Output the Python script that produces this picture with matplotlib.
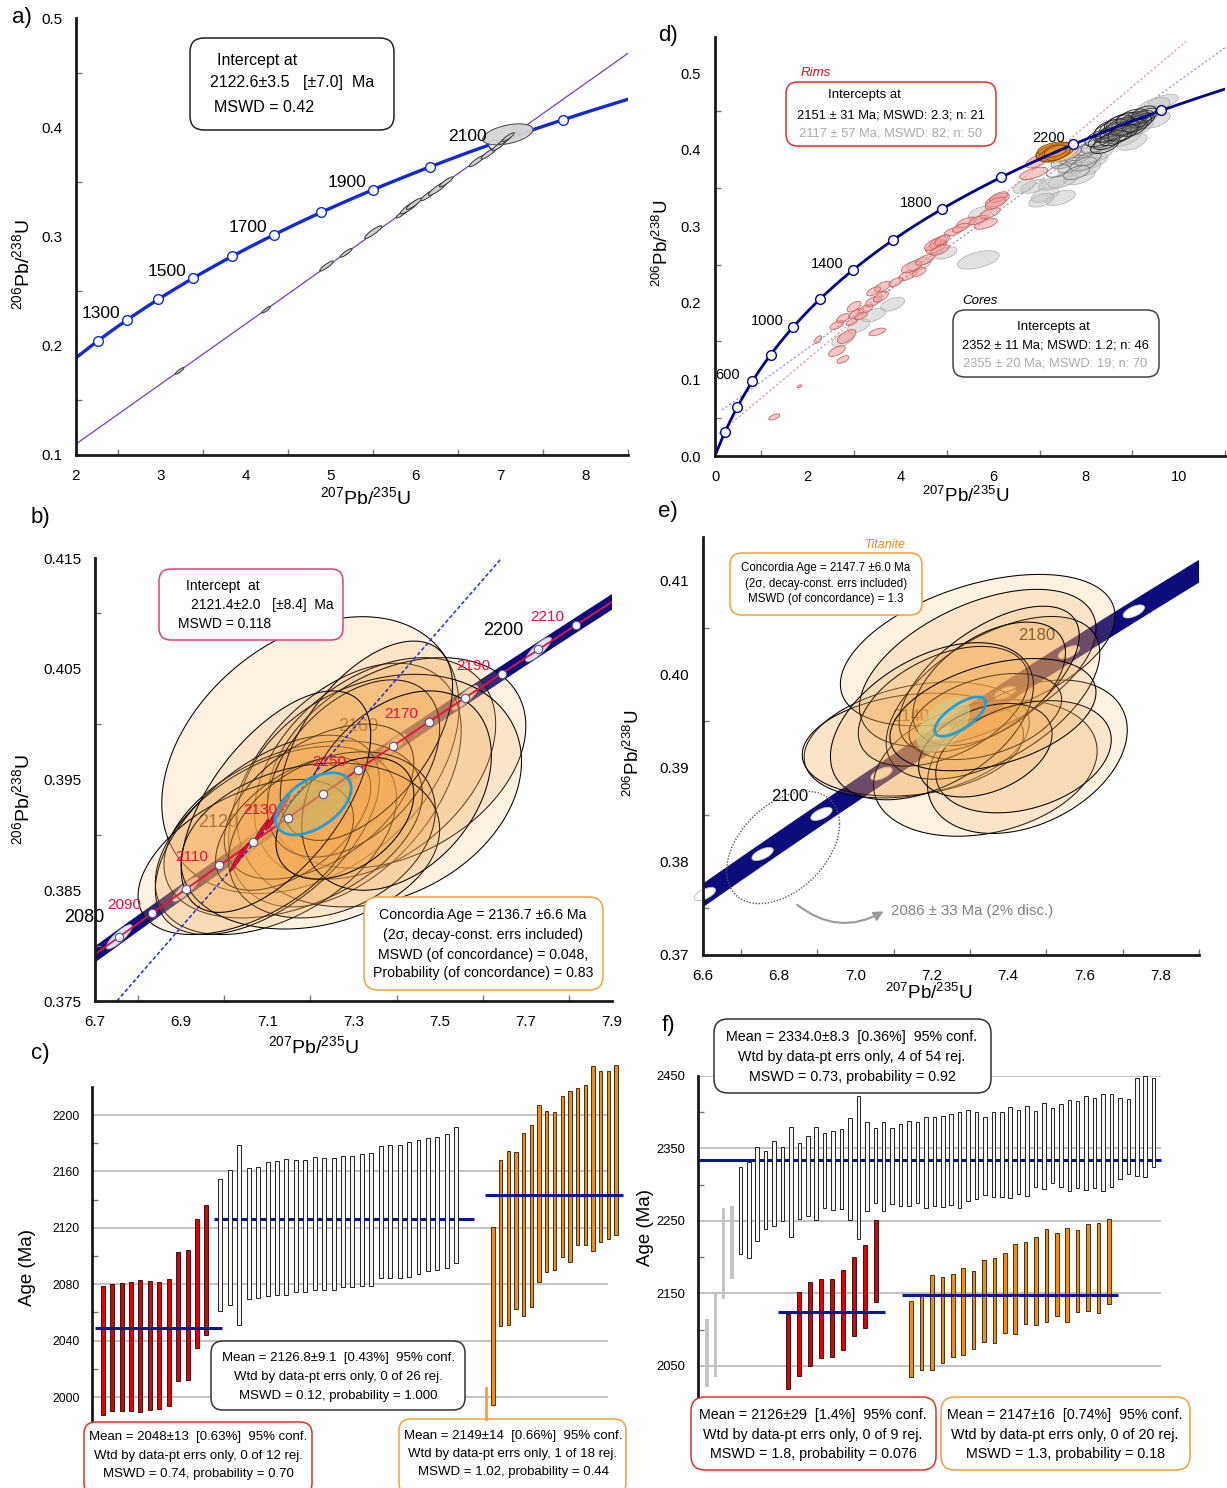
import numpy as np
import matplotlib.pyplot as plt
from matplotlib.patches import FancyBboxPatch, Polygon, FancyArrowPatch
from matplotlib.lines import Line2D
from matplotlib.colors import to_rgba
from matplotlib.ticker import FixedLocator, FormatStrFormatter

plt.rcParams['font.family'] = ['Liberation Sans', 'DejaVu Sans']
plt.rcParams['mathtext.fontset'] = 'custom'
plt.rcParams['mathtext.rm'] = 'Liberation Sans'
plt.rcParams['mathtext.it'] = 'Liberation Sans:italic'
plt.rcParams['mathtext.bf'] = 'Liberation Sans:bold'

# decay constants, 1/Ma
L238 = 1.55125e-4
L235 = 9.8485e-4

# ---------------- a) data ----------------
a_marker_ages = [1200, 1300, 1400, 1500, 1600, 1700, 1800, 1900, 2000, 2100, 2200]
a_label_ages = [1300, 1500, 1700, 1900, 2100]
a_disc_x = [0.0, 8.5]
a_disc_y = [0.0, 0.4677]
a_ex = [3.22, 4.24, 4.95, 5.18, 5.50, 5.84, 5.93, 5.98, 6.15, 6.26, 6.36, 6.72, 6.86, 6.98, 7.05, 7.09]
a_ey = [0.177, 0.233, 0.273, 0.285, 0.304, 0.321, 0.327, 0.330, 0.338, 0.344, 0.350, 0.369, 0.376, 0.383, 0.388, 0.391]
a_esx = [0.05, 0.05, 0.08, 0.07, 0.10, 0.07, 0.11, 0.09, 0.09, 0.11, 0.08, 0.09, 0.09, 0.08, 0.07, 0.07]
a_esy = [0.0030, 0.0030, 0.0046, 0.0040, 0.0058, 0.0040, 0.0063, 0.0052, 0.0052, 0.0063, 0.0046, 0.0052, 0.0052,
         0.0046, 0.0040, 0.0040]
a_erho = [0.9, 0.9, 0.9, 0.9, 0.9, 0.9, 0.9, 0.9, 0.9, 0.9, 0.9, 0.9, 0.9, 0.9, 0.9, 0.9]
a_icpt = (7.085, 0.3935, 0.296, 0.0096, 0.45)

# ---------------- d) data ----------------
d_marker_ages = [200, 400, 600, 800, 1000, 1200, 1400, 1600, 1800, 2000, 2200, 2400]
d_label_ages = [600, 1000, 1400, 1800, 2200]
d_rim_line_x = [0.0, 10.16]
d_rim_line_y = [0.025, 0.541]
d_core_line_x = [0.15, 11.0]
d_core_line_y = [0.060, 0.533]
d_pink_cx = [1.28, 1.82, 2.76, 2.22, 3.50, 2.84, 2.63, 2.76, 3.05, 3.25, 3.00, 3.42, 3.58, 3.62, 3.42, 4.16, 4.24,
             4.53, 4.77, 4.81, 4.85, 5.14, 5.43, 5.68, 5.84, 5.93, 6.09, 6.12, 6.87, 6.95, 2.95, 3.90, 4.40, 2.63,
             4.70, 4.90, 6.05, 3.15, 5.30]
d_pink_cy = [0.051, 0.091, 0.126, 0.152, 0.162, 0.156, 0.171, 0.180, 0.186, 0.192, 0.195, 0.202, 0.208, 0.221, 0.215,
             0.236, 0.247, 0.256, 0.273, 0.279, 0.269, 0.293, 0.305, 0.308, 0.303, 0.317, 0.334, 0.338, 0.369, 0.385,
             0.175, 0.227, 0.240, 0.137, 0.276, 0.282, 0.330, 0.183, 0.298]
d_pink_sx = [0.12, 0.05, 0.13, 0.08, 0.18, 0.20, 0.15, 0.14, 0.16, 0.16, 0.15, 0.18, 0.16, 0.18, 0.15, 0.20, 0.22,
             0.20, 0.22, 0.18, 0.20, 0.20, 0.22, 0.20, 0.25, 0.22, 0.26, 0.20, 0.30, 0.25, 0.12, 0.15, 0.15, 0.18,
             0.18, 0.16, 0.22, 0.14, 0.18]
d_pink_sy = [0.004, 0.002, 0.005, 0.005, 0.005, 0.009, 0.006, 0.006, 0.006, 0.006, 0.007, 0.007, 0.007, 0.007, 0.006,
             0.007, 0.008, 0.007, 0.009, 0.008, 0.007, 0.006, 0.007, 0.006, 0.007, 0.007, 0.009, 0.007, 0.008, 0.009,
             0.005, 0.006, 0.006, 0.007, 0.008, 0.007, 0.008, 0.005, 0.006]
d_gray_cx = [5.68, 7.12, 7.45, 6.87, 7.28, 7.86, 7.70, 8.11, 7.61, 8.27, 8.44, 8.02, 8.85, 9.67, 9.10, 9.50, 3.83,
             3.42, 4.40, 4.98, 5.72, 2.76, 3.10, 6.67, 7.04, 8.60, 9.30, 9.00, 7.50, 9.45, 8.00]
d_gray_cy = [0.256, 0.341, 0.337, 0.352, 0.356, 0.365, 0.374, 0.385, 0.387, 0.395, 0.409, 0.390, 0.417, 0.463, 0.430,
             0.439, 0.198, 0.184, 0.250, 0.265, 0.317, 0.152, 0.170, 0.352, 0.334, 0.425, 0.445, 0.410, 0.360, 0.455,
             0.375]
d_gray_sx = [0.45, 0.30, 0.32, 0.28, 0.30, 0.34, 0.30, 0.36, 0.32, 0.32, 0.32, 0.32, 0.36, 0.32, 0.36, 0.32, 0.26,
             0.26, 0.26, 0.24, 0.26, 0.24, 0.24, 0.24, 0.27, 0.32, 0.32, 0.32, 0.32, 0.36, 0.32]
d_gray_sy = [0.012, 0.010, 0.010, 0.009, 0.009, 0.011, 0.010, 0.011, 0.011, 0.011, 0.011, 0.010, 0.013, 0.009, 0.013,
             0.011, 0.009, 0.009, 0.009, 0.008, 0.009, 0.009, 0.009, 0.009, 0.009, 0.011, 0.011, 0.011, 0.010, 0.013,
             0.010]
d_dark_cx = [8.35, 8.45, 8.55, 8.60, 8.65, 8.70, 8.75, 8.80, 8.85, 8.90, 8.95, 9.00, 9.05, 9.10, 9.15, 8.50, 8.70,
             8.90, 9.20, 8.80, 8.60, 9.00, 8.40, 9.30, 8.30, 8.50, 8.65, 8.75, 8.95, 9.05, 9.20, 8.55, 8.85, 9.10,
             8.45, 8.70, 9.00, 9.25, 8.60, 8.80]
d_dark_cy = [0.412, 0.418, 0.420, 0.425, 0.422, 0.428, 0.430, 0.426, 0.433, 0.431, 0.436, 0.433, 0.438, 0.437, 0.440,
             0.425, 0.418, 0.440, 0.442, 0.436, 0.430, 0.428, 0.405, 0.445, 0.415, 0.420, 0.424, 0.432, 0.430, 0.440,
             0.438, 0.428, 0.428, 0.434, 0.410, 0.435, 0.442, 0.448, 0.415, 0.422]
d_dark_sx = [0.30, 0.28, 0.32, 0.30, 0.26, 0.30, 0.34, 0.28, 0.30, 0.32, 0.28, 0.30, 0.26, 0.30, 0.28, 0.34, 0.30,
             0.28, 0.26, 0.36, 0.30, 0.32, 0.30, 0.26, 0.32, 0.30, 0.34, 0.28, 0.32, 0.30, 0.28, 0.36, 0.30, 0.32,
             0.28, 0.30, 0.34, 0.26, 0.30, 0.32]
d_dark_sy = [0.010, 0.009, 0.011, 0.010, 0.009, 0.010, 0.011, 0.009, 0.010, 0.011, 0.009, 0.010, 0.009, 0.010, 0.009,
             0.011, 0.010, 0.009, 0.009, 0.012, 0.010, 0.011, 0.010, 0.009, 0.011, 0.010, 0.012, 0.010, 0.011, 0.010,
             0.009, 0.012, 0.010, 0.011, 0.010, 0.010, 0.011, 0.009, 0.010, 0.011]
d_mid_cx = [7.55, 7.70, 7.85, 8.00, 8.10, 7.65, 7.95, 8.20, 7.40, 7.80, 7.60, 8.05]
d_mid_cy = [0.385, 0.390, 0.392, 0.398, 0.402, 0.378, 0.381, 0.405, 0.372, 0.370, 0.395, 0.388]
d_mid_sx = [0.30, 0.28, 0.30, 0.28, 0.30, 0.26, 0.28, 0.30, 0.25, 0.28, 0.30, 0.28]
d_mid_sy = [0.010, 0.009, 0.010, 0.009, 0.010, 0.008, 0.009, 0.010, 0.008, 0.009, 0.010, 0.009]
d_or_cx = [7.37, 7.30, 7.35, 7.25, 7.40, 7.32, 7.28, 7.38, 7.34]
d_or_cy = [0.396, 0.397, 0.399, 0.395, 0.398, 0.401, 0.393, 0.396, 0.398]
d_or_sx = [0.45, 0.38, 0.34, 0.32, 0.34, 0.36, 0.30, 0.28, 0.24]
d_or_sy = [0.013, 0.011, 0.010, 0.010, 0.010, 0.009, 0.009, 0.010, 0.008]
d_cyan = (7.35, 0.397, 0.07, 0.0025, 0.5)

# ---------------- b) data ----------------
b_dot_ages = [2080, 2090, 2100, 2110, 2120, 2130, 2140, 2150, 2160, 2170, 2180, 2190, 2200, 2210]
b_ell_ages = [2080, 2100, 2120, 2140, 2160, 2180, 2200]
b_red_labels = [2090, 2110, 2130, 2150, 2170, 2190, 2210]
b_black_labels = [2080, 2120, 2160, 2200]
b_disc_x = [6.751, 7.644]
b_disc_y = [0.375, 0.415]
b_cx = [7.20, 7.28, 7.35, 7.40, 7.36, 7.16, 7.12, 7.10, 7.22, 7.16, 7.30, 7.25, 7.05, 7.33, 7.20, 7.40, 7.12, 7.28]
b_cy = [0.3972, 0.3945, 0.3960, 0.3965, 0.3940, 0.3905, 0.3895, 0.3900, 0.3930, 0.3910, 0.3960, 0.3900, 0.3880,
        0.3985, 0.3890, 0.3940, 0.3930, 0.3915]
b_sx = [0.345, 0.27, 0.28, 0.30, 0.33, 0.30, 0.28, 0.26, 0.22, 0.18, 0.20, 0.24, 0.25, 0.20, 0.30, 0.22, 0.22, 0.16]
b_sy = [0.0125, 0.0110, 0.0100, 0.0095, 0.0105, 0.0080, 0.0085, 0.0090, 0.0070, 0.0060, 0.0080, 0.0075, 0.0070,
        0.0090, 0.0075, 0.0090, 0.0100, 0.0055]
b_rho = [0.35, 0.45, 0.40, 0.35, 0.25, 0.40, 0.45, 0.55, 0.50, 0.55, 0.45, 0.30, 0.50, 0.55, 0.20, 0.35, 0.60, 0.40]
b_red_cx = [7.035, 7.085, 7.125]
b_red_cy = [0.3880, 0.3903, 0.3921]
b_red_sx = [0.022, 0.018, 0.028]
b_red_sy = [0.0013, 0.0011, 0.0016]
b_cyan = (7.2066, 0.3928, 0.088, 0.0028, 0.5)

# ---------------- e) data ----------------
e_ell_ages = [2060, 2080, 2100, 2120, 2140, 2160, 2180, 2200]
e_black_labels = [2100, 2140, 2180]
e_cx = [7.16, 7.15, 7.34, 7.45, 7.32, 7.32, 7.36, 7.35, 7.35, 7.34, 7.23, 7.20, 7.44, 7.34, 7.36]
e_cy = [0.3930, 0.3925, 0.3900, 0.3912, 0.4026, 0.4007, 0.3975, 0.3995, 0.3990, 0.3955, 0.3966, 0.3950, 0.3912,
        0.3919, 0.3957]
e_sx = [0.295, 0.29, 0.293, 0.262, 0.36, 0.31, 0.28, 0.236, 0.20, 0.20, 0.223, 0.266, 0.23, 0.175, 0.27]
e_sy = [0.0062, 0.0055, 0.0073, 0.0082, 0.0081, 0.0084, 0.0087, 0.0078, 0.0066, 0.0046, 0.0064, 0.0084, 0.0060,
        0.0050, 0.0060]
e_rho = [0.30, 0.20, 0.25, 0.35, 0.45, 0.50, 0.55, 0.60, 0.50, 0.40, 0.45, 0.45, 0.30, 0.35, 0.40]
e_disc_ell = (6.81, 0.3815, 0.148, 0.006, 0.42)
e_cyan = (7.274, 0.3955, 0.067, 0.0021, 0.70)
e_olive = (7.23, 0.3946, 0.07, 0.0030, 0.50)

# ---------------- c) data ----------------
c_red_lo = [1987.5, 1990.3, 1990.3, 1990.3, 1989.1, 1991.0, 1991.5, 1993.4, 2011.6, 2012.0, 2034.8, 2044.0]
c_red_hi = [2078.6, 2080.5, 2080.7, 2081.4, 2083.3, 2082.1, 2081.7, 2083.8, 2102.9, 2104.3, 2126.4, 2136.3]
c_gray_lo = [2061.1, 2065.1, 2050.8, 2069.4, 2070.1, 2071.5, 2072.7, 2072.7, 2074.4, 2074.6, 2075.6, 2075.6, 2076.0,
             2077.9, 2077.9, 2078.5, 2078.5, 2084.1, 2084.4, 2084.4, 2085.3, 2087.0, 2089.6, 2090.3, 2091.5, 2094.8]
c_gray_hi = [2154.8, 2160.7, 2178.5, 2162.8, 2163.5, 2166.9, 2167.3, 2168.5, 2168.0, 2168.0, 2169.9, 2169.2, 2169.2,
             2171.3, 2171.3, 2172.5, 2172.8, 2178.0, 2178.9, 2178.9, 2181.1, 2182.0, 2183.7, 2184.6, 2186.3, 2191.2]
c_or_lo = [1994.4, 2050.4, 2051.4, 2062.2, 2057.5, 2063.8, 2081.7, 2089.0, 2090.0, 2099.4, 2095.9, 2108.0, 2108.0,
           2103.8, 2110.0, 2112.3, 2115.0]
c_or_hi = [2120.5, 2167.8, 2174.8, 2174.0, 2187.0, 2193.1, 2207.3, 2202.8, 2202.4, 2213.4, 2216.9, 2219.2, 2221.1,
           2234.7, 2231.4, 2231.0, 2235.7]
c_means = [2049.0, 2126.4, 2143.2]
c_ticks = [2000, 2040, 2080, 2120, 2160, 2200]

# ---------------- f) data ----------------
f_rej_lo = [2021.0, 2034.8, 2143.0, 2170.6]
f_rej_hi = [2115.4, 2149.9, 2267.3, 2270.5]
f_gray_lo = [2204.2, 2199.6, 2222.2, 2238.3, 2242.4, 2250.2, 2227.7, 2252.1, 2256.7, 2250.7,
             2267.3, 2265.4, 2265.9, 2251.1, 2225.8, 2264.0, 2274.2, 2263.6, 2273.2, 2270.5,
             2270.9, 2275.1, 2267.3, 2270.5, 2269.1, 2271.4, 2268.6, 2277.8, 2279.7, 2285.7,
             2282.9, 2283.4, 2281.5, 2286.6, 2284.8, 2296.3, 2293.5, 2301.8, 2296.3, 2291.7,
             2295.9, 2292.1, 2294.9, 2291.2, 2296.3, 2307.8, 2314.2, 2311.4, 2310.1, 2324.8]
f_gray_hi = [2324.8, 2330.8, 2352.4, 2346.9, 2360.2, 2351.5, 2380.0, 2357.9, 2367.6, 2379.1,
             2371.7, 2374.5, 2377.3, 2391.5, 2422.4, 2386.9, 2378.2, 2386.9, 2378.7, 2384.2,
             2388.3, 2386.5, 2393.8, 2392.9, 2394.8, 2398.0, 2400.7, 2403.0, 2399.8, 2393.8,
             2400.7, 2400.7, 2407.7, 2403.0, 2409.0, 2402.1, 2412.3, 2405.8, 2411.8, 2416.4,
             2416.0, 2422.8, 2419.2, 2425.1, 2424.7, 2419.2, 2418.2, 2447.7, 2450.5, 2446.8]
f_red_lo = [2017.8, 2036.2, 2050.0, 2061.1, 2062.4, 2072.6, 2091.0, 2102.5, 2138.4]
f_red_hi = [2122.3, 2152.2, 2166.0, 2169.7, 2170.1, 2182.1, 2200.5, 2216.6, 2251.2]
f_or_lo = [2034.8, 2044.0, 2044.0, 2054.1, 2062.4, 2065.6, 2073.9, 2083.1, 2081.8, 2095.6,
           2094.6, 2108.5, 2107.1, 2110.8, 2119.0, 2110.8, 2124.6, 2125.5, 2123.6, 2135.2]
f_or_hi = [2139.8, 2148.5, 2175.2, 2172.9, 2177.5, 2185.8, 2181.2, 2195.9, 2199.2, 2206.0,
           2218.9, 2221.2, 2228.1, 2238.7, 2234.1, 2241.0, 2237.3, 2246.5, 2247.9, 2252.1]
f_means = [2334.0, 2125.0, 2148.0]
f_ticks = [2050, 2150, 2250, 2350, 2450]

W, H = 1227, 1488
fig = plt.figure(figsize=(W / 100, H / 100), dpi=100)

XL = r'$^{207}$Pb/$^{235}$U'
YL = r'$^{206}$Pb/$^{238}$U'
NAVY = '#0c0c7c'
ORANGE_F = '#f3a850'


def px_axes(l, t, r, b):
    return fig.add_axes([l / W, 1 - b / H, (r - l) / W, (b - t) / H])


def ftext(x, y, s, **kw):
    kw.setdefault('ha', 'center')
    kw.setdefault('va', 'center')
    kw.setdefault('zorder', 10)
    return fig.text(x / W, 1 - y / H, s, **kw)


def fbox(l, t, r, b, ec, rad=12, lw=1.1):
    p = FancyBboxPatch((l / 100, (H - b) / 100), (r - l) / 100, (b - t) / 100,
                       boxstyle=f'round,pad=0,rounding_size={rad / 100}',
                       transform=fig.dpi_scale_trans, fc='white', ec=ec, lw=lw, zorder=8)
    fig.add_artist(p)


def fline(x0, y0, x1, y1, **kw):
    fig.add_artist(Line2D([x0 / 100, x1 / 100], [(H - y0) / 100, (H - y1) / 100],
                          transform=fig.dpi_scale_trans, zorder=9, **kw))


def concordia(t):
    t = np.asarray(t, dtype=float)
    return np.exp(L235 * t) - 1, np.exp(L238 * t) - 1


def ellipse(ax, cx, cy, sx, sy, rho, fc, ec, alpha=1.0, lw=0.6, z=2, ls='-', clip=True):
    th = np.linspace(0, 2 * np.pi, 160)
    x = cx + sx * np.cos(th)
    y = cy + sy * (rho * np.cos(th) + np.sqrt(1 - rho ** 2) * np.sin(th))
    face = 'none' if fc == 'none' else to_rgba(fc, alpha)
    p = Polygon(np.column_stack([x, y]), closed=True, fc=face, ec=ec, lw=lw, ls=ls, zorder=z)
    ax.add_patch(p)
    p.set_clip_on(clip)


def conc_axes(ax, xlim, ylim, xmaj, xmin, ymaj, ymin, xfmt, yfmt, fs=11):
    ax.set_xlim(xlim)
    ax.set_ylim(ylim)
    ax.set_facecolor('none')
    for s in ('top', 'right'):
        ax.spines[s].set_visible(False)
    for s in ('left', 'bottom'):
        ax.spines[s].set_linewidth(2.0)
        ax.spines[s].set_color('#1a1a1a')
        ax.spines[s].set_zorder(12)
    ax.xaxis.set_major_locator(FixedLocator(xmaj))
    ax.xaxis.set_minor_locator(FixedLocator(xmin))
    ax.yaxis.set_major_locator(FixedLocator(ymaj))
    ax.yaxis.set_minor_locator(FixedLocator(ymin))
    ax.xaxis.set_major_formatter(FormatStrFormatter(xfmt))
    ax.yaxis.set_major_formatter(FormatStrFormatter(yfmt))
    ax.tick_params(which='major', length=0, labelsize=fs, pad=10)
    ax.tick_params(which='minor', direction='in', length=4, width=1, color='#777777')


# =============== a) ===============
ax = px_axes(76, 18, 628, 455)
conc_axes(ax, (2, 8.5), (0.1, 0.5), [2, 3, 4, 5, 6, 7, 8], [2.5, 3.5, 4.5, 5.5, 6.5, 7.5, 8.5],
          [0.1, 0.2, 0.3, 0.4, 0.5], [0.15, 0.25, 0.35, 0.45], '%d', '%.1f')
ax.plot(a_disc_x, a_disc_y, color='#7a3cc0', lw=0.9, zorder=1)
tt = np.linspace(1000, 2400, 400)
cx, cy = concordia(tt)
ax.plot(cx, cy, color='#1428d8', lw=2.4, zorder=2)
mx, my = concordia(a_marker_ages)
ax.plot(mx, my, 'o', ms=7, mfc='white', mec='#1428d8', mew=1.0, zorder=3)
ellipse(ax, *a_icpt, fc='#d4d4d4', ec='#555555', alpha=0.95, lw=0.8, z=4)
for i in range(len(a_ex)):
    ellipse(ax, a_ex[i], a_ey[i], a_esx[i], a_esy[i], a_erho[i], fc='#cfcfcf', ec='#333333', lw=0.7, z=5)
for age in a_label_ages:
    x, y = concordia(age)
    ax.annotate(str(age), (x, y), xytext=(-26, 7), textcoords='offset pixels',
                ha='center', va='center', fontsize=12.5, zorder=6)

# =============== d) ===============
ax = px_axes(715, 37, 1225, 456)
conc_axes(ax, (0, 11), (0, 0.547), [0, 2, 4, 6, 8, 10], [1, 3, 5, 7, 9, 11],
          [0.0, 0.1, 0.2, 0.3, 0.4, 0.5], [0.05, 0.15, 0.25, 0.35, 0.45], '%d', '%.1f', fs=10.5)
ax.plot(d_rim_line_x, d_rim_line_y, color='#e08a8a', lw=0.8, ls=(0, (2, 2)), zorder=1)
ax.plot(d_core_line_x, d_core_line_y, color='#8a8ae0', lw=0.8, ls=(0, (2, 2)), zorder=1)
for i in range(len(d_gray_cx)):
    ellipse(ax, d_gray_cx[i], d_gray_cy[i], d_gray_sx[i], d_gray_sy[i], 0.5,
            fc='#c4c4c4', ec='#aaaaaa', alpha=0.5, lw=0.5, z=2)
for i in range(len(d_pink_cx)):
    ellipse(ax, d_pink_cx[i], d_pink_cy[i], d_pink_sx[i], d_pink_sy[i], 0.6,
            fc='#f09a9a', ec='#c45a5a', alpha=0.55, lw=0.55, z=3)
for i in range(len(d_mid_cx)):
    ellipse(ax, d_mid_cx[i], d_mid_cy[i], d_mid_sx[i], d_mid_sy[i], 0.5,
            fc='#d0d0d0', ec='#707070', alpha=0.25, lw=0.55, z=3)
for i in range(len(d_dark_cx)):
    ellipse(ax, d_dark_cx[i], d_dark_cy[i], d_dark_sx[i], d_dark_sy[i], 0.5,
            fc='#b8b8b8', ec='#1a1a1a', alpha=0.12, lw=0.6, z=4)
ellipse(ax, d_or_cx[0], d_or_cy[0], d_or_sx[0], d_or_sy[0], 0.4, fc='#f8cc90', ec='#d09050', alpha=0.85, lw=0.5, z=5)
for i in range(1, len(d_or_cx)):
    ellipse(ax, d_or_cx[i], d_or_cy[i], d_or_sx[i], d_or_sy[i], 0.4,
            fc='#f08c1c', ec='#6a3800', alpha=0.55, lw=0.5, z=5)
ellipse(ax, *d_cyan, fc='#18a8e8', ec='#18a8e8', z=6)
tt = np.linspace(0, 2600, 500)
cx, cy = concordia(tt)
ax.plot(cx, cy, color='#000090', lw=2.0, zorder=7)
mx, my = concordia(d_marker_ages)
ax.plot(mx, my, 'o', ms=7, mfc='white', mec='#000090', mew=1.0, zorder=8)
for age in d_label_ages:
    x, y = concordia(age)
    ax.annotate(str(age), (x, y), xytext=(-25, 6), textcoords='offset pixels',
                ha='center', va='center', fontsize=10.5, zorder=9)

# =============== b) ===============
ax = px_axes(95, 558, 612, 1001)
conc_axes(ax, (6.7, 7.9), (0.375, 0.415), [6.7, 6.9, 7.1, 7.3, 7.5, 7.7, 7.9], [6.8, 7.0, 7.2, 7.4, 7.6, 7.8],
          [0.375, 0.385, 0.395, 0.405, 0.415], [0.38, 0.39, 0.40, 0.41], '%.1f', '%.3f')
tt = np.linspace(2060, 2240, 400)
cx, cy = concordia(tt)
ax.plot(cx, cy, color=NAVY, lw=9.5, solid_capstyle='butt', zorder=1)
for age in b_ell_ages:
    x, y = concordia(age)
    ellipse(ax, x, y, 0.03, 0.0011, 0.85, fc='white', ec='#aaaaaa', alpha=0.9, lw=0.6, z=2)
for age in b_black_labels:
    x, y = concordia(age)
    ax.annotate(str(age), (x, y), xytext=(-35, 19), textcoords='offset pixels',
                ha='center', va='center', fontsize=13, zorder=2, annotation_clip=False)
for i in range(len(b_cx)):
    ellipse(ax, b_cx[i], b_cy[i], b_sx[i], b_sy[i], b_rho[i], fc=ORANGE_F, ec='black', alpha=0.16, lw=0.75, z=3)
ax.plot(b_disc_x, b_disc_y, color='#1830e0', lw=1.1, ls=(0, (2.5, 1.5)), zorder=4)
ax.plot(cx, cy, color='#e8103c', lw=1.3, zorder=5)
for i in range(len(b_red_cx)):
    ellipse(ax, b_red_cx[i], b_red_cy[i], b_red_sx[i], b_red_sy[i], 0.97, fc='#e0103c', ec='#900020', lw=0.5, z=5)
ellipse(ax, *b_cyan, fc='#c8b46a', ec='#1ea0dc', alpha=0.55, lw=2.0, z=6)
mx, my = concordia(b_dot_ages)
ax.plot(mx, my, 'o', ms=6, mfc='white', mec='#5050a0', mew=0.8, zorder=7)
for age in b_red_labels:
    x, y = concordia(age)
    ax.annotate(str(age), (x, y), xytext=(-28, 8), textcoords='offset pixels',
                ha='center', va='center', fontsize=11, color='#e8103c', zorder=8)

# =============== e) ===============
ax = px_axes(703, 537, 1199, 955)
conc_axes(ax, (6.6, 7.9), (0.37, 0.4147), [6.6, 6.8, 7.0, 7.2, 7.4, 7.6, 7.8], [6.7, 6.9, 7.1, 7.3, 7.5, 7.7, 7.9],
          [0.37, 0.38, 0.39, 0.40, 0.41], [0.375, 0.385, 0.395, 0.405], '%.1f', '%.2f')
tt = np.linspace(2040, 2260, 400)
cx, cy = concordia(tt)
ax.plot(cx, cy, color=NAVY, lw=14, solid_capstyle='butt', zorder=1)
for age in e_ell_ages:
    x, y = concordia(age)
    ellipse(ax, x, y, 0.028, 0.0007, 0.6, fc='white', ec='#bbbbbb', lw=0.6, z=2, clip=False)
for age in e_black_labels:
    x, y = concordia(age)
    ax.annotate(str(age), (x, y), xytext=(-32, 17), textcoords='offset pixels',
                ha='center', va='center', fontsize=12, zorder=2)
ellipse(ax, *e_disc_ell, fc='none', ec='#555555', lw=1.0, ls=(0, (1, 1.2)), z=2)
for i in range(len(e_cx)):
    ellipse(ax, e_cx[i], e_cy[i], e_sx[i], e_sy[i], e_rho[i], fc=ORANGE_F, ec='black', alpha=0.16, lw=0.75, z=3)
ellipse(ax, *e_olive, fc='#d2d08a', ec='none', alpha=0.6, z=4)
ellipse(ax, *e_cyan, fc='none', ec='#1ea0dc', lw=2.0, z=6)

# =============== c) ===============
ax = px_axes(92, 1087, 630, 1420)
ax.set_xlim(-1.13, 55.9)
ax.set_ylim(1983.7, 2219.9)
ax.set_facecolor('none')
for s in ('top', 'right', 'bottom'):
    ax.spines[s].set_visible(False)
ax.spines['left'].set_linewidth(2.0)
ax.spines['left'].set_color('#1a1a1a')
ax.set_xticks([])
ax.yaxis.set_major_locator(FixedLocator(c_ticks))
ax.yaxis.set_minor_locator(FixedLocator([2020, 2060, 2100, 2140, 2180, 2220]))
ax.tick_params(axis='y', which='major', length=0, labelsize=8.7, pad=9)
ax.tick_params(axis='y', which='minor', direction='in', length=4, width=1, color='#777777')
ax.hlines(c_ticks, -1.13, 53.6, colors='#bdbdbd', lw=1.3, zorder=1)
x_red = np.arange(len(c_red_lo)) * 1.0
x_gray = 12.48 + np.arange(len(c_gray_lo)) * 1.0
x_or = 41.36 + np.arange(len(c_or_lo)) * 0.817
ax.hlines(c_means[1], 11.8, 39.4, colors='#0a1890', lw=2.2, zorder=2)
ax.bar(x_red, np.subtract(c_red_hi, c_red_lo), bottom=c_red_lo, width=0.42, color='#e00000',
       edgecolor='#220000', lw=0.6, zorder=3, clip_on=False)
ax.bar(x_gray, np.subtract(c_gray_hi, c_gray_lo), bottom=c_gray_lo, width=0.42, color='#f4f4f4',
       edgecolor='#222222', lw=0.7, zorder=3, clip_on=False)
ax.bar(x_or, np.subtract(c_or_hi, c_or_lo), bottom=c_or_lo, width=0.36, color='#f08c10',
       edgecolor='#2a1800', lw=0.6, zorder=3, clip_on=False)
ax.hlines(c_means[0], -0.8, 12.7, colors='#0a1890', lw=2.2, zorder=4)
ax.hlines(c_means[2], 40.5, 55.2, colors='#0a1890', lw=2.2, zorder=4, clip_on=False)

# =============== f) ===============
ax = px_axes(698, 1076, 1165, 1397)
ax.set_xlim(-1.07, 54.3)
ax.set_ylim(2007.2, 2450)
ax.set_facecolor('none')
for s in ('top', 'right', 'bottom'):
    ax.spines[s].set_visible(False)
ax.spines['left'].set_linewidth(2.0)
ax.spines['left'].set_color('#1a1a1a')
ax.set_xticks([])
ax.yaxis.set_major_locator(FixedLocator(f_ticks))
ax.yaxis.set_minor_locator(FixedLocator([2100, 2200, 2300, 2400]))
ax.tick_params(axis='y', which='major', length=0, labelsize=9.4, pad=9)
ax.tick_params(axis='y', which='minor', direction='in', length=4, width=1, color='#777777')
ax.hlines(f_ticks, -1.07, 53.86, colors='#bdbdbd', lw=1.3, zorder=1)
x_rej = np.arange(len(f_rej_lo)) * 0.98
x_gray = 3.95 + np.arange(len(f_gray_lo)) * 1.0
x_red = 9.61 + np.arange(len(f_red_lo)) * 1.305
x_or = 24.2 + np.arange(len(f_or_lo)) * 1.234
ax.hlines(f_means[0], -1.07, 53.86, colors='#0a1890', lw=2.2, zorder=2)
ax.bar(x_rej, np.subtract(f_rej_hi, f_rej_lo), bottom=f_rej_lo, width=0.4, color='#c4c4c4',
       lw=0, zorder=3)
ax.bar(x_gray, np.subtract(f_gray_hi, f_gray_lo), bottom=f_gray_lo, width=0.42, color='#f4f4f4',
       edgecolor='#222222', lw=0.7, zorder=3, clip_on=False)
ax.bar(x_red, np.subtract(f_red_hi, f_red_lo), bottom=f_red_lo, width=0.42, color='#e00000',
       edgecolor='#220000', lw=0.6, zorder=3)
ax.bar(x_or, np.subtract(f_or_hi, f_or_lo), bottom=f_or_lo, width=0.42, color='#f08c10',
       edgecolor='#2a1800', lw=0.6, zorder=3)
ax.hlines(f_means[1], 8.42, 21.1, colors='#0a1890', lw=2.2, zorder=4)
ax.hlines(f_means[2], 23.1, 48.75, colors='#0a1890', lw=2.2, zorder=4)

# =============== figure texts ===============
for x, y, s in [(22, 18, 'a)'), (668, 36, 'd)'), (40, 518, 'b)'), (668, 512, 'e)'),
                (40, 1053, 'c)'), (668, 1025, 'f)')]:
    ftext(x, y, s, fontsize=16)

ftext(365, 497, XL, fontsize=14)
ftext(22, 265, YL, fontsize=14, rotation=90)
ftext(966, 496, XL, fontsize=13.5)
ftext(662, 243, YL, fontsize=13.5, rotation=90)
ftext(313, 1046, XL, fontsize=14)
ftext(22, 800, YL, fontsize=14, rotation=90)
ftext(929, 993, XL, fontsize=13.5)
ftext(633, 753, YL, fontsize=13.5, rotation=90)
ftext(28, 1268, 'Age (Ma)', fontsize=13.5, rotation=90)
ftext(645, 1228, 'Age (Ma)', fontsize=13.5, rotation=90)

# a) box
fbox(190, 38, 394, 130, '#222222', rad=14)
ftext(217, 60, 'Intercept at', ha='left', fontsize=11.5)
ftext(210, 83, '2122.6±3.5   [±7.0]  Ma', ha='left', fontsize=11.5)
ftext(214, 107, 'MSWD = 0.42', ha='left', fontsize=11.5)

# d) boxes
ftext(816, 73, 'Rims', color='#e0101e', style='italic', fontsize=9.5)
fbox(786, 82, 996, 146, '#e03030', rad=12)
ftext(864, 95, 'Intercepts at', fontsize=9.5)
ftext(891, 115, '2151 ± 31 Ma; MSWD: 2.3; n: 21', fontsize=9.3)
ftext(891, 133, '2117 ± 57 Ma; MSWD: 82; n: 50', fontsize=9.3, color='#aaaaaa')
ftext(980, 301, 'Cores', style='italic', fontsize=9.5)
fbox(953, 310, 1159, 377, '#444444', rad=12)
ftext(1053, 327, 'Intercepts at', fontsize=9.5)
ftext(1055, 345, '2352 ± 11 Ma; MSWD: 1.2; n: 46', fontsize=9.3)
ftext(1055, 363, '2355 ± 20 Ma; MSWD: 19; n: 70', fontsize=9.3, color='#aaaaaa')

# b) boxes
fbox(159, 569, 343, 640, '#e0407a', rad=12)
ftext(186, 586, 'Intercept  at', ha='left', fontsize=10)
ftext(191, 605, '2121.4±2.0   [±8.4]  Ma', ha='left', fontsize=10)
ftext(178, 624, 'MSWD = 0.118', ha='left', fontsize=10)
fbox(364, 897, 603, 990, '#f0a040', rad=14)
ftext(483, 915, 'Concordia Age = 2136.7 ±6.6 Ma', fontsize=10.2)
ftext(483, 935, '(2σ, decay-const. errs included)', fontsize=10.2)
ftext(483, 955, 'MSWD (of concordance) = 0.048,', fontsize=10.2)
ftext(483, 973, 'Probability (of concordance) = 0.83', fontsize=10.2)

# e) box and annotation
ftext(885, 545, 'Titanite', color='#f08a1a', style='italic', fontsize=9)
fbox(730, 553, 922, 615, '#f0a040', rad=12)
ftext(826, 568, 'Concordia Age = 2147.7 ±6.0 Ma', fontsize=8.3)
ftext(826, 584, '(2σ, decay-const. errs included)', fontsize=8.3)
ftext(826, 599, 'MSWD (of concordance) = 1.3', fontsize=8.3)
ftext(891, 911, '2086 ± 33 Ma (2% disc.)', ha='left', fontsize=10.8, color='#808080')
arr = FancyArrowPatch((7.95, (H - 903) / 100), (8.86, (H - 910) / 100), transform=fig.dpi_scale_trans,
                      connectionstyle='arc3,rad=0.35', arrowstyle='-|>', mutation_scale=14,
                      color='#999999', lw=1.5, zorder=9)
fig.add_artist(arr)

# c) boxes
fbox(211, 1341, 465, 1410, '#333333', rad=12)
ftext(338, 1358, 'Mean = 2126.8±9.1  [0.43%]  95% conf.', fontsize=9.5)
ftext(338, 1377, 'Wtd by data-pt errs only, 0 of 26 rej.', fontsize=9.5)
ftext(338, 1396, 'MSWD = 0.12, probability = 1.000', fontsize=9.5)
fbox(84, 1422, 312, 1495, '#e03030', rad=12)
ftext(198, 1437, 'Mean = 2048±13  [0.63%]  95% conf.', fontsize=9.5)
ftext(198, 1456, 'Wtd by data-pt errs only, 0 of 12 rej.', fontsize=9.5)
ftext(198, 1474, 'MSWD = 0.74, probability = 0.70', fontsize=9.5)
fline(486, 1388, 486, 1419, color='#f5a030', lw=2)
fbox(399, 1419, 626, 1495, '#f0a040', rad=12)
ftext(513, 1436, 'Mean = 2149±14  [0.66%]  95% conf.', fontsize=9.5)
ftext(513, 1454, 'Wtd by data-pt errs only, 1 of 18 rej.', fontsize=9.5)
ftext(513, 1472, 'MSWD = 1.02, probability = 0.44', fontsize=9.5)

# f) boxes
fbox(714, 1019, 991, 1093, '#333333', rad=14)
ftext(852, 1037, 'Mean = 2334.0±8.3  [0.36%]  95% conf.', fontsize=10.3)
ftext(852, 1057, 'Wtd by data-pt errs only, 4 of 54 rej.', fontsize=10.3)
ftext(852, 1077, 'MSWD = 0.73, probability = 0.92', fontsize=10.3)
fbox(691, 1397, 936, 1470, '#e03030', rad=14)
ftext(813, 1415, 'Mean = 2126±29  [1.4%]  95% conf.', fontsize=10.3)
ftext(813, 1435, 'Wtd by data-pt errs only, 0 of 9 rej.', fontsize=10.3)
ftext(813, 1454, 'MSWD = 1.8, probability = 0.076', fontsize=10.3)
fbox(941, 1397, 1190, 1470, '#f0a040', rad=14)
ftext(1065, 1415, 'Mean = 2147±16  [0.74%]  95% conf.', fontsize=10.3)
ftext(1065, 1435, 'Wtd by data-pt errs only, 0 of 20 rej.', fontsize=10.3)
ftext(1065, 1454, 'MSWD = 1.3, probability = 0.18', fontsize=10.3)

fig.savefig('out.png', dpi=100)
